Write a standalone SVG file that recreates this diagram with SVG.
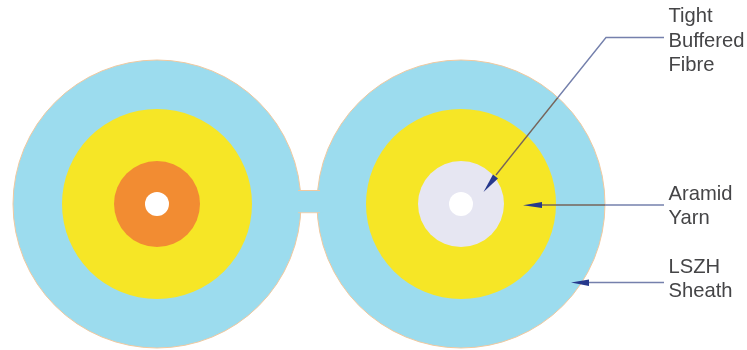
<svg xmlns="http://www.w3.org/2000/svg" width="747" height="350" viewBox="0 0 747 350">
<style>
.sheath{fill:#9cdcee;stroke:#f0c9a0;stroke-width:1}
.yarn{fill:#f6e626}
.core{fill:#fff}
.lead{fill:none;stroke:#7480ac;stroke-width:1.4}
.lead2{fill:none;stroke:#76645a;stroke-width:1.4}
.head{fill:#26388c}
text{font-family:"Liberation Sans",Arial,sans-serif;font-size:20.2px;fill:#444446}
</style>
<defs><filter id="soft" x="-5%" y="-5%" width="110%" height="110%"><feGaussianBlur stdDeviation="0.45"/></filter></defs>
<g filter="url(#soft)">
<rect width="747" height="350" fill="#fff"/>
<g id="left-cable">
<circle class="sheath" cx="157" cy="204" r="144"/>
<circle class="yarn" cx="157" cy="204" r="95"/>
<circle cx="157" cy="204" r="43" fill="#f28c33"/>
<circle class="core" cx="157" cy="204" r="12"/>
</g>
<g id="right-cable">
<circle class="sheath" cx="461" cy="204" r="144"/>
<circle class="yarn" cx="461" cy="204" r="95"/>
<circle cx="461" cy="204" r="43" fill="#e6e6f2"/>
<circle class="core" cx="461" cy="204" r="12"/>
</g>
<g id="bridge">
<path d="M298 190.500H320M298 212.700H320" fill="none" stroke="#f0c9a0" stroke-width="1"/>
<rect x="295" y="191" width="28" height="21.200" fill="#9cdcee"/>
</g>
<g id="connectors">
<path class="lead" d="M664 37.500H606L557.700 97.700"/>
<path class="lead2" d="M557.700 97.700L496 175"/>
<path class="lead" d="M664 205H605"/>
<path class="lead2" d="M605 205H540"/>
<path class="lead" d="M664 282.500H588"/>
<path class="head" d="M483.500 192L493 174.500L498 178.500Z"/>
<path class="head" d="M523 205.200L542 202V208Z"/>
<path class="head" d="M571 282.500L589 279.500V286Z"/>
</g>
<g id="labels">
<text x="668.500" y="22">Tight</text>
<text x="668.500" y="47">Buffered</text>
<text x="668.500" y="71">Fibre</text>
<text x="668.500" y="200">Aramid</text>
<text x="668.500" y="224">Yarn</text>
<text x="668.500" y="273">LSZH</text>
<text x="668.500" y="297">Sheath</text>
</g>
</g>
</svg>
